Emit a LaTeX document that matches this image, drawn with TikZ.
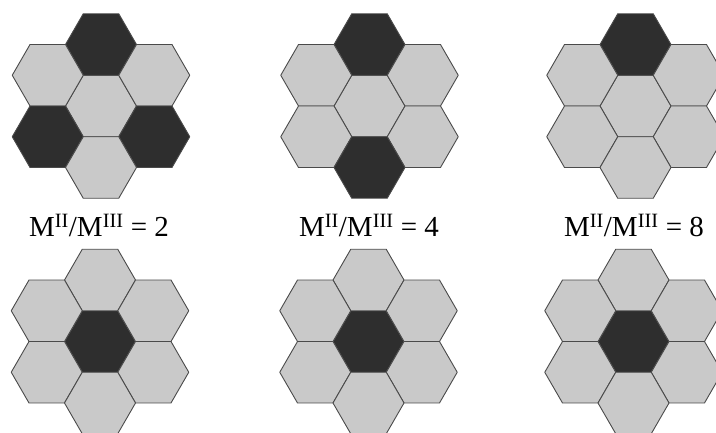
\documentclass[tikz,border=0pt]{standalone}
\usepackage{fontspec}
\setmainfont{Liberation Serif}
\definecolor{lightcell}{HTML}{C9C9C9}
\definecolor{darkcell}{HTML}{2E2E2E}
\definecolor{edgecol}{HTML}{4A4A4A}
\tikzset{
  light/.style={fill=lightcell, draw=edgecol, line width=0.9pt, line join=round},
  dark/.style={fill=darkcell, draw=edgecol, line width=0.9pt, line join=round},
  ratio/.style={font=\fontsize{29}{32}\selectfont, anchor=base, inner sep=0pt}
}
% one hexagon: centre x, centre y, style
\newcommand\hexcell[3]{%
  \draw[#3] (#1,#2) +(0:35.5pt) -- +(60:35.5pt) -- +(120:35.5pt) -- +(180:35.5pt)
    -- +(240:35.5pt) -- +(300:35.5pt) -- cycle;}
% a flower of seven cells: centre x, centre y, styles of C, T, UL, UR, LL, LR, B
\newcommand\flower[9]{%
  \hexcell{#1}{#2}{#3}%
  \hexcell{#1}{#2-61.49}{#4}%
  \hexcell{#1-53.25}{#2-30.74}{#5}%
  \hexcell{#1+53.25}{#2-30.74}{#6}%
  \hexcell{#1-53.25}{#2+30.74}{#7}%
  \hexcell{#1+53.25}{#2+30.74}{#8}%
  \hexcell{#1}{#2+61.49}{#9}}
\begin{document}
\begin{tikzpicture}[x=1pt,y=-1pt]
\useasboundingbox (0,0) rectangle (716,432);
\fill[white] (0,0) rectangle (716,432);
\clip (0,0) rectangle (716,432);
% top row
\flower{101}{106}{light}{dark}{light}{light}{dark}{dark}{light}
\flower{369.5}{106}{light}{dark}{light}{light}{light}{light}{dark}
\flower{635.5}{106}{light}{dark}{light}{light}{light}{light}{light}
% bottom row
\flower{100}{341.5}{dark}{light}{light}{light}{light}{light}{light}
\flower{368.5}{341.5}{dark}{light}{light}{light}{light}{light}{light}
\flower{633.5}{341.5}{dark}{light}{light}{light}{light}{light}{light}
% labels
\node[ratio] (lab1) at (99,236.5) {M\textsuperscript{II}/M\textsuperscript{III} = 2};
\node[ratio] (lab2) at (369,236.5) {M\textsuperscript{II}/M\textsuperscript{III} = 4};
\node[ratio] (lab3) at (634,236.5) {M\textsuperscript{II}/M\textsuperscript{III} = 8};
\end{tikzpicture}
\end{document}
